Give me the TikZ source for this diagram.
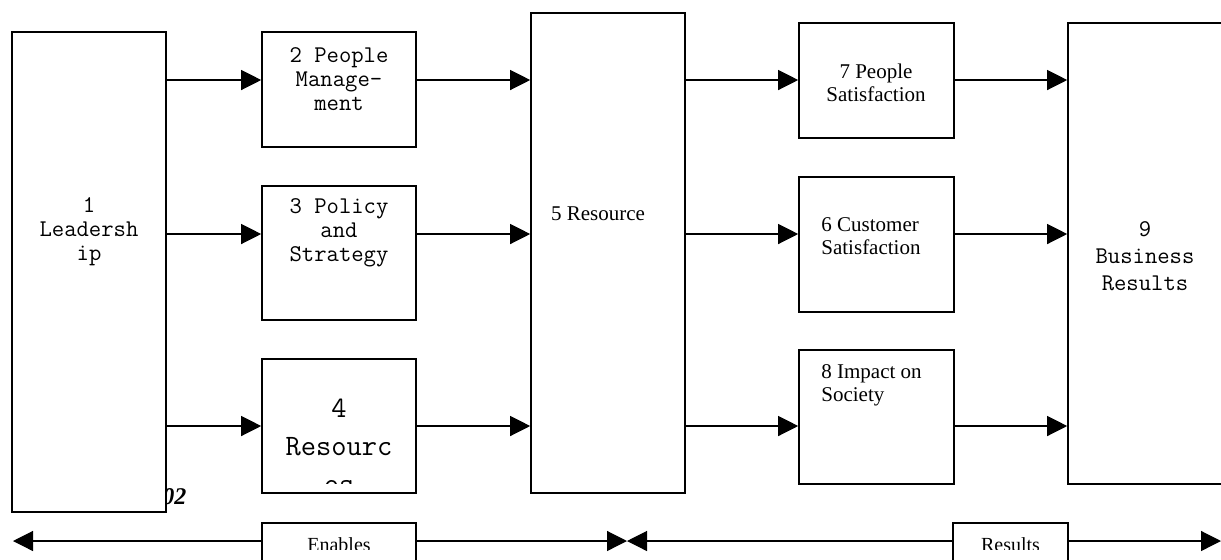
\documentclass[tikz,border=0pt]{standalone}
\usepackage{fontspec}
\setmainfont{Liberation Serif}
\usetikzlibrary{positioning,arrows.meta}

\tikzset{
    block/.style={draw, rectangle, fill=white, line width=0.8pt, inner sep=0pt},
    flow/.style={-{Triangle[length=10pt, width=10pt]}, line width=0.6pt},
    monotext/.style={font=\ttfamily\fontsize{12}{12}\selectfont, align=center, inner sep=0pt},
    seriftext/.style={font=\fontsize{10.5}{11.5}\selectfont, align=left, inner sep=0pt},
    bartext/.style={font=\fontsize{10}{12}\selectfont, anchor=base, inner sep=0pt}
}

\begin{document}
\begin{tikzpicture}[x=0.5pt, y=-0.5pt]
    \useasboundingbox (0,0) rectangle (1221,559);

    % stray page number, half hidden by the first box
    \node[font=\bfseries\itshape\fontsize{12}{14}\selectfont, anchor=west, inner sep=0pt] (tag) at (162,497) {02};

    % Enablers
    \node[block, minimum width=77pt, minimum height=240pt] (b1) at (89,272) {};
    \node[block, minimum width=77pt, minimum height=57.5pt] (b2) at (339,89.5) {};
    \node[block, minimum width=77pt, minimum height=67pt] (b3) at (339,253) {};
    \node[block, minimum width=77pt, minimum height=67pt] (b4) at (339,426) {};
    \node[block, minimum width=77pt, minimum height=240pt] (b5) at (608,253) {};

    % Results
    \node[block, minimum width=77.5pt, minimum height=57.5pt] (b7) at (876.5,80.5) {};
    \node[block, minimum width=77.5pt, minimum height=67.5pt] (b6) at (876.5,244.5) {};
    \node[block, minimum width=77.5pt, minimum height=67pt] (b8) at (876.5,417) {};
    \node[block, minimum width=78pt, minimum height=230.5pt] (b9) at (1146,253.5) {};

    % Box texts
    \node[monotext] (t1) at (89,232) {1\\Leadersh\\ip};
    \node[monotext] (t2) at (339,79) {2 People\\Manage-\\ment};
    \node[monotext] (t3) at (339,233) {3 Policy\\and\\Strategy};
    \begin{scope}
        \clip (b4.north west) rectangle ([yshift=5pt]b4.south east);
        \node[monotext, font=\ttfamily\fontsize{14.8}{19}\selectfont] (t4) at (339,446) {4\\Resourc\\es};
    \end{scope}
    \node[seriftext] (t5) at (598,214) {5 Resource};
    \node[seriftext, align=center] (t7) at (876,83) {7 People\\Satisfaction};
    \node[seriftext, anchor=west] (t6) at (821,236.5) {6 Customer\\Satisfaction};
    \node[seriftext, anchor=west] (t8) at (821,385.5) {8 Impact on\\Society};
    \node[monotext, font=\ttfamily\fontsize{12}{13.5}\selectfont] (t9) at (1145,256) {9\\Business\\Results};

    % Flows between the columns
    \coordinate (r1) at (0,80);
    \coordinate (r2) at (0,234);
    \coordinate (r3) at (0,426);
    \foreach \r/\a/\c in {r1/b2/b7, r2/b3/b6, r3/b4/b8} {
        \draw[flow] (b1.east |- \r) -- (\a.west |- \r);
        \draw[flow] (\a.east |- \r) -- (b5.west |- \r);
        \draw[flow] (b5.east |- \r) -- (\c.west |- \r);
        \draw[flow] (\c.east |- \r) -- (b9.west |- \r);
    }

    % Bottom bar
    \node[block, minimum width=77pt, minimum height=38pt] (enables) at (339,561) {};
    \node[block, minimum width=57.5pt, minimum height=38pt] (results) at (1010.5,561) {};
    \begin{scope}
        \clip (0,0) rectangle (1221,549);
        \node[bartext] (te) at (339,551) {Enables};
        \node[bartext] (tr) at (1010.5,551) {Results};
    \end{scope}
    \coordinate (lend) at (13,541);
    \coordinate (mid) at (627,541);
    \coordinate (rend) at (1221,541);
    \draw[flow] (enables.west |- lend) -- (lend);
    \draw[flow] (enables.east |- lend) -- (mid);
    \draw[flow] (results.west |- lend) -- (mid);
    \draw[flow] (results.east |- lend) -- (rend);
\end{tikzpicture}
\end{document}
